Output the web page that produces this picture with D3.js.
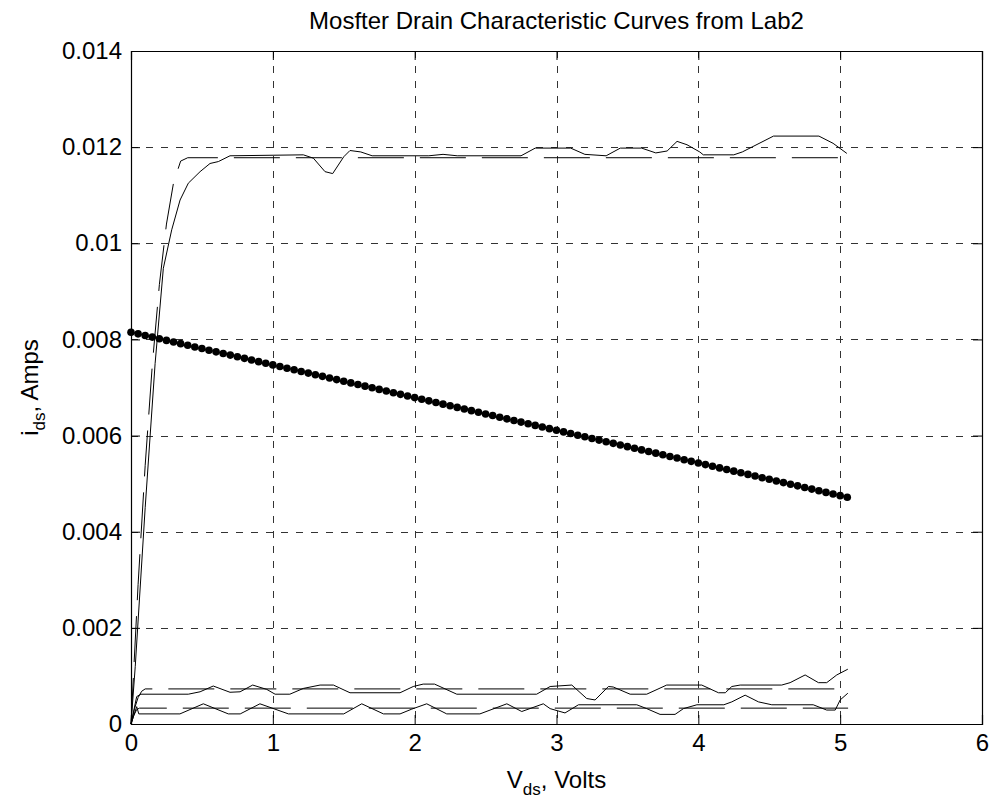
<!DOCTYPE html>
<html>
<head>
<meta charset="utf-8">
<script src="https://cdn.jsdelivr.net/npm/d3@7"></script>
<style>
  body { margin: 0; background: #fff; }
  text { font-family: "Liberation Sans", Arial, sans-serif; fill: #000; }
</style>
</head>
<body>
<div class="chart"></div>
<script>
// tick labels
const xTicks = [0, 1, 2, 3, 4, 5, 6];
const yTicks = [0, 0.002, 0.004, 0.006, 0.008, 0.01, 0.012, 0.014];
const yTickLabels = ['0', '0.002', '0.004', '0.006', '0.008', '0.01', '0.012', '0.014'];

// load line (dots)
const loadV = [0,0.05,0.1,0.15,0.2,0.25,0.3,0.35,0.4,0.45,0.5,0.55,0.6,0.65,0.7,0.75,0.8,0.85,0.9,0.95,
  1,1.05,1.1,1.15,1.2,1.25,1.3,1.35,1.4,1.45,1.5,1.55,1.6,1.65,1.7,1.75,1.8,1.85,1.9,1.95,
  2,2.05,2.1,2.15,2.2,2.25,2.3,2.35,2.4,2.45,2.5,2.55,2.6,2.65,2.7,2.75,2.8,2.85,2.9,2.95,
  3,3.05,3.1,3.15,3.2,3.25,3.3,3.35,3.4,3.45,3.5,3.55,3.6,3.65,3.7,3.75,3.8,3.85,3.9,3.95,
  4,4.05,4.1,4.15,4.2,4.25,4.3,4.35,4.4,4.45,4.5,4.55,4.6,4.65,4.7,4.75,4.8,4.85,4.9,4.95,5,5.05];
const loadI = [0.00815,0.008116,0.008082,0.008048,0.008014,0.00798,0.007946,0.007912,0.007878,0.007844,
  0.00781,0.007776,0.007742,0.007708,0.007674,0.00764,0.007606,0.007572,0.007538,0.007504,
  0.00747,0.007436,0.007402,0.007368,0.007334,0.0073,0.007266,0.007232,0.007198,0.007164,
  0.00713,0.007096,0.007062,0.007028,0.006994,0.00696,0.006926,0.006892,0.006858,0.006824,
  0.00679,0.006756,0.006722,0.006688,0.006654,0.00662,0.006586,0.006552,0.006518,0.006484,
  0.00645,0.006416,0.006382,0.006348,0.006314,0.00628,0.006246,0.006212,0.006178,0.006144,
  0.00611,0.006076,0.006042,0.006008,0.005974,0.00594,0.005906,0.005872,0.005838,0.005804,
  0.00577,0.005736,0.005702,0.005668,0.005634,0.0056,0.005566,0.005532,0.005498,0.005464,
  0.00543,0.005396,0.005362,0.005328,0.005294,0.00526,0.005226,0.005192,0.005158,0.005124,
  0.00509,0.005056,0.005022,0.004988,0.004954,0.00492,0.004886,0.004852,0.004818,0.004784,
  0.00475,0.004716];

// measured curves (solid)
const highMeasV = [0,0.03,0.1,0.17,0.228,0.287,0.346,0.404,0.487,0.557,0.616,0.698,1.215,1.286,1.368,1.422,1.5,1.544,
  1.62,1.7,2.1,2.2,2.3,2.75,2.85,3.1,3.2,3.35,3.45,3.6,3.7,3.78,3.85,3.92,4.01,4.035,4.25,4.31,4.53,4.85,4.95,5.047];
const highMeasI = [0,0.0012,0.0045,0.0075,0.00948,0.01028,0.0109,0.01125,0.01149,0.01166,0.0117,0.01182,0.01184,0.01177,0.01149,0.01145,0.0118,0.01193,
  0.0119,0.01182,0.01182,0.01185,0.01182,0.01182,0.01198,0.01198,0.01185,0.01182,0.01198,0.01198,0.01188,0.01192,0.01212,0.01205,0.0119,0.01184,0.01184,0.0119,0.01223,0.01223,0.01208,0.01187];

const midMeasV = [0,0.04,0.07,0.404,0.487,0.58,0.698,0.769,0.858,0.957,1.016,1.12,1.215,1.333,1.427,1.544,1.897,1.99,2.06,2.14,2.297,
  2.86,2.955,3.108,3.213,3.272,3.366,3.4,3.519,3.636,3.777,4.024,4.142,4.19,4.236,4.295,4.588,4.647,4.753,4.847,4.905,4.976,5.054];
const midMeasI = [0,0.00057,0.00062,0.00062,0.00067,0.00079,0.00066,0.00067,0.00081,0.00072,0.00062,0.00062,0.00074,0.00081,0.00081,0.00065,0.00065,0.00078,0.00083,0.00083,0.00062,
  0.00062,0.00078,0.00081,0.00053,0.0005,0.00078,0.00077,0.00062,0.00062,0.00081,0.00081,0.00065,0.00065,0.00078,0.00081,0.00081,0.00086,0.00102,0.00086,0.00086,0.00102,0.00114];

const lowMeasV = [0,0.04,0.055,0.345,0.51,0.686,0.77,0.909,1.11,1.5,1.627,1.78,1.897,1.98,2.085,2.226,2.46,2.65,2.755,2.907,
  2.955,3.06,3.155,3.566,3.636,3.73,3.836,3.895,3.99,4.18,4.236,4.33,4.424,4.518,4.81,4.905,4.965,5.0,5.054];
const lowMeasI = [0,0.00036,0.00021,0.00021,0.00042,0.00021,0.00021,0.00042,0.00021,0.00021,0.00042,0.00021,0.00021,0.00031,0.00042,0.00021,0.00021,0.00042,0.00026,0.00042,
  0.00032,0.00023,0.0004,0.0004,0.00032,0.0002,0.0002,0.00032,0.0004,0.0004,0.00046,0.0006,0.00046,0.0004,0.0004,0.00029,0.00029,0.0005,0.00064];

// model curves (dashed)
const highModelV = [0,0.05,0.1,0.15,0.2,0.25,0.3,0.35,0.4,5.056];
const highModelI = [0,0.0029,0.00538,0.00746,0.00914,0.0104,0.01126,0.01171,0.01178,0.01178];
const midModelV = [0,0.025,0.05,0.075,0.1,5.056];
const midModelI = [0,0.00032,0.00055,0.00068,0.00073,0.00073];
const lowModelV = [0,0.02,0.04,0.06,5.056];
const lowModelI = [0,0.00018,0.0003,0.00033,0.00033];

const width = 851;
const height = 673;

const svg = d3.select(".chart")
  .append("svg")
    .attr("width", 994)
    .attr("height", 801);

const chart = svg.append("g")
  .attr("transform", "translate(131, 51)");

//SCALES
const x = d3.scaleLinear().domain([0, 6]).range([0, width]);
const y = d3.scaleLinear().domain([0, 0.014]).range([height, 0]);

//grid
chart.append("g")
  .selectAll("line")
  .data(xTicks.slice(1, -1))
  .enter().append("line")
    .attr("x1", d => Math.round(x(d)) + 0.5)
    .attr("x2", d => Math.round(x(d)) + 0.5)
    .attr("y1", 0)
    .attr("y2", height)
    .attr("stroke", "#333")
    .attr("stroke-dasharray", "7,8");
chart.append("g")
  .selectAll("line")
  .data(yTicks.slice(1, -1))
  .enter().append("line")
    .attr("y1", d => Math.round(y(d)) + 0.5)
    .attr("y2", d => Math.round(y(d)) + 0.5)
    .attr("x1", 0)
    .attr("x2", width)
    .attr("stroke", "#333")
    .attr("stroke-dasharray", "7,8");

//axes (ticks inside, MATLAB style)
const xAxis = chart.append("g")
  .attr("transform", "translate(0," + height + ")")
  .call(d3.axisBottom(x).tickValues(xTicks).tickSize(-9).tickPadding(18).tickFormat(d3.format("d")));
const xTop = chart.append("g")
  .call(d3.axisTop(x).tickValues(xTicks).tickSize(-9).tickFormat(""));
const yAxis = chart.append("g")
  .call(d3.axisLeft(y).tickValues(yTicks).tickSize(-9).tickPadding(18).tickFormat((d, i) => yTickLabels[i]));
const yRight = chart.append("g")
  .attr("transform", "translate(" + width + ",0)")
  .call(d3.axisRight(y).tickValues(yTicks).tickSize(-9).tickFormat(""));
[xAxis, xTop, yAxis, yRight].forEach(a => {
  a.selectAll(".domain").attr("stroke", "#000").attr("stroke-width", 1.2);
  a.selectAll(".tick line").attr("stroke", "#000");
  a.selectAll(".tick text")
    .style("font-family", '"Liberation Sans", Arial, sans-serif')
    .style("font-size", "24px")
    .attr("fill", "#000");
});
xAxis.selectAll(".tick text").attr("dy", "0.75em").attr("y", 9);
yAxis.selectAll(".tick text").attr("x", -9);

//curves
const line = d3.line().x(d => x(d[0])).y(d => y(d[1]));
const zip = (a, b) => a.map((v, i) => [v, b[i]]);

const solid = [[highMeasV, highMeasI], [midMeasV, midMeasI], [lowMeasV, lowMeasI]];
const dashed = [[highModelV, highModelI], [midModelV, midModelI], [lowModelV, lowModelI]];

chart.append("g")
  .selectAll("path")
  .data(dashed)
  .enter().append("path")
    .attr("d", d => line(zip(d[0], d[1])))
    .attr("fill", "none")
    .attr("stroke", "#000")
    .attr("stroke-width", 1)
    .attr("stroke-dasharray", "46,16");

chart.append("g")
  .selectAll("path")
  .data(solid)
  .enter().append("path")
    .attr("d", d => line(zip(d[0], d[1])))
    .attr("fill", "none")
    .attr("stroke", "#000")
    .attr("stroke-width", 1);

//load line with dots
const load = zip(loadV, loadI);
chart.append("path")
  .attr("d", line(load))
  .attr("fill", "none")
  .attr("stroke", "#000")
  .attr("stroke-width", 1);
chart.append("g")
  .selectAll("circle")
  .data(load)
  .enter().append("circle")
    .attr("cx", d => x(d[0]))
    .attr("cy", d => y(d[1]))
    .attr("r", 3.8)
    .attr("fill", "#000");

//title and labels
svg.append("text")
  .attr("x", 131 + width / 2)
  .attr("y", 29)
  .attr("text-anchor", "middle")
  .style("font-size", "24px")
  .text("Mosfter Drain Characteristic Curves from Lab2");

const xl = svg.append("text")
  .attr("x", 131 + width / 2)
  .attr("y", 788)
  .attr("text-anchor", "middle")
  .style("font-size", "24px");
xl.append("tspan").text("V");
xl.append("tspan").attr("dy", 7).style("font-size", "17px").text("ds");
xl.append("tspan").attr("dy", -7).text(", Volts");

const yl = svg.append("text")
  .attr("transform", "translate(38," + (51 + height / 2) + ") rotate(-90)")
  .attr("text-anchor", "middle")
  .style("font-size", "24px");
yl.append("tspan").text("i");
yl.append("tspan").attr("dy", 7).style("font-size", "17px").text("ds");
yl.append("tspan").attr("dy", -7).text(", Amps");
</script>
</body>
</html>
